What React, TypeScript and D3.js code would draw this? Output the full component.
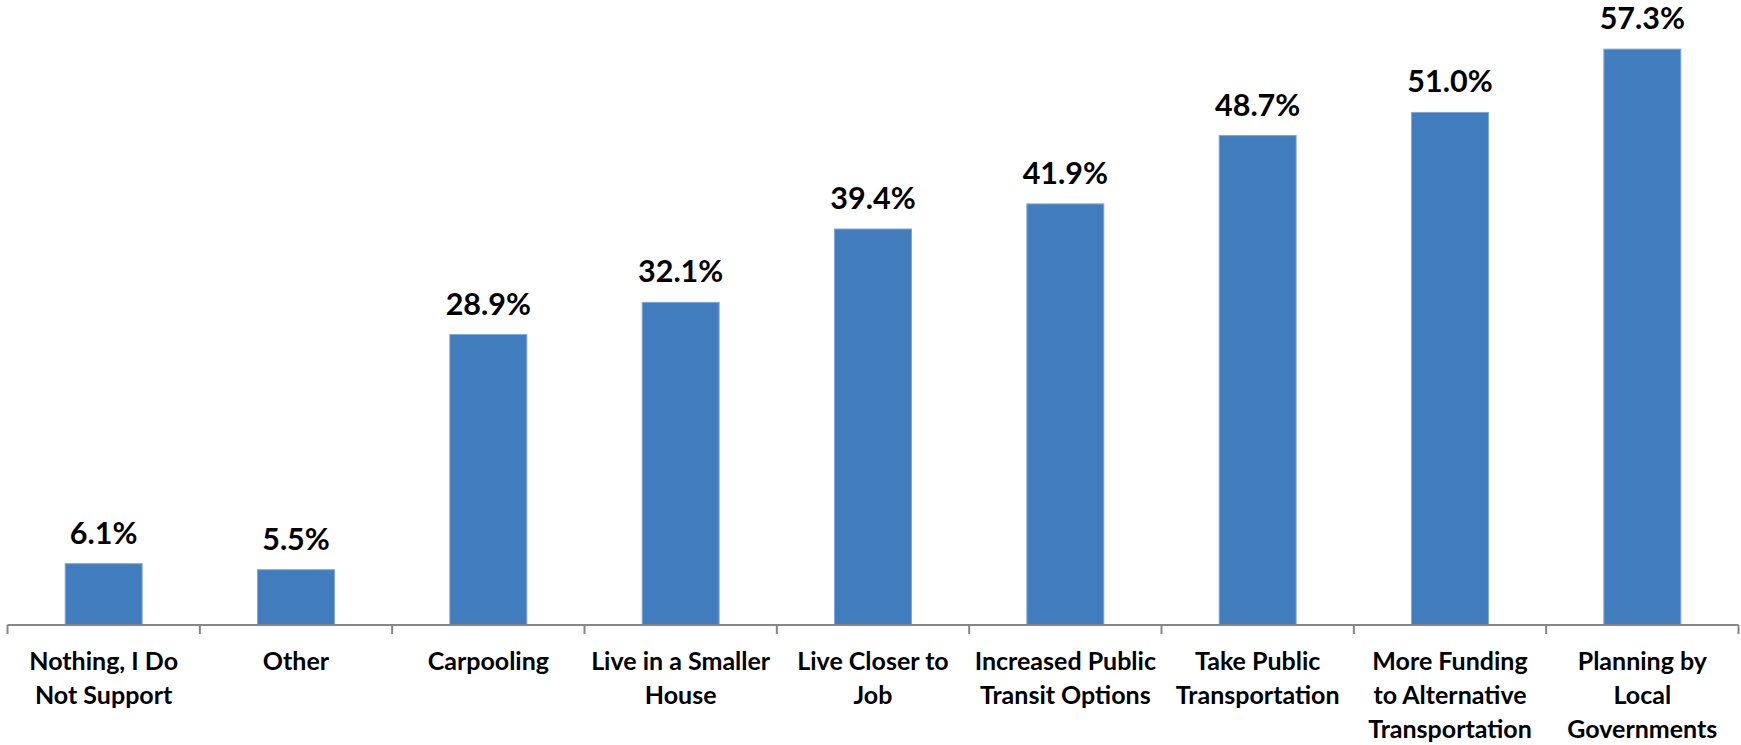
import React from "react";
import * as d3 from "d3";

const categories: string[][] = [
  ["Nothing, I Do", "Not Support"],
  ["Other"],
  ["Carpooling"],
  ["Live in a Smaller", "House"],
  ["Live Closer to", "Job"],
  ["Increased Public", "Transit Options"],
  ["Take Public", "Transportation"],
  ["More Funding", "to Alternative", "Transportation"],
  ["Planning by", "Local", "Governments"],
];
const values: number[] = [6.1, 5.5, 28.9, 32.1, 39.4, 41.9, 48.7, 51.0, 57.3];
const valueLabels: string[] = ["6.1%", "5.5%", "28.9%", "32.1%", "39.4%", "41.9%", "48.7%", "51.0%", "57.3%"];

const W = 1741;
const H = 745;
const FONT = "Lato, 'Open Sans', 'DejaVu Sans', sans-serif";

export default function App() {
  const keys = categories.map((c) => c.join(" "));
  const x = d3.scaleBand<string>().domain(keys).range([7.5, 1738.5]).paddingInner(0.6).paddingOuter(0.3);
  const y = d3.scaleLinear().domain([0, 60]).range([625, 22]);
  const step = x.step();
  const x0 = 7.5;
  const baseY = y(0);

  return (
    <svg width={W} height={H} style={{ position: "absolute", left: 0, top: 0, background: "#fff" }}>
      {values.map((v, i) => (
        <rect
          key={"b" + i}
          x={x(keys[i])!}
          y={y(v)}
          width={x.bandwidth()}
          height={baseY - y(v)}
          fill="#417CBD"
          stroke="#7FA5D6"
          strokeWidth={1}
        />
      ))}
      {values.map((v, i) => (
        <text
          key={"v" + i}
          x={x(keys[i])! + x.bandwidth() / 2}
          y={y(v) - 20}
          textAnchor="middle"
          fontFamily={FONT}
          fontWeight={700}
          fontSize={30.5}
          fill="#000"
        >
          {valueLabels[i]}
        </text>
      ))}
      <line x1={x0} x2={x0 + step * keys.length} y1={baseY} y2={baseY} stroke="#868686" strokeWidth={2} />
      {d3.range(keys.length + 1).map((i) => (
        <line key={"t" + i} x1={x0 + i * step} x2={x0 + i * step} y1={baseY} y2={baseY + 9} stroke="#868686" strokeWidth={2} />
      ))}
      {categories.map((lines, i) => (
        <text
          key={"c" + i}
          x={x(keys[i])! + x.bandwidth() / 2}
          y={670}
          textAnchor="middle"
          fontFamily={FONT}
          fontWeight={700}
          fontSize={25}
          fill="#000"
        >
          {lines.map((l, j) => (
            <tspan key={j} x={x(keys[i])! + x.bandwidth() / 2} y={670 + j * 34}>
              {l}
            </tspan>
          ))}
        </text>
      ))}
    </svg>
  );
}
